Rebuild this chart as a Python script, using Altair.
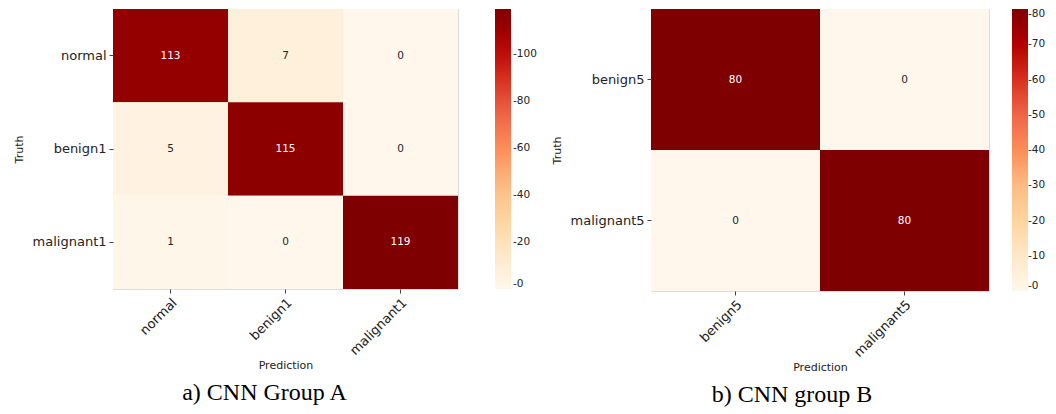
import altair as alt
import pandas as pd

labels_a = ["normal", "benign1", "malignant1"]
matrix_a = [[113, 7, 0],
            [5, 115, 0],
            [1, 0, 119]]
labels_b = ["benign5", "malignant5"]
matrix_b = [[80, 0],
            [0, 80]]
ticks_a = [0, 20, 40, 60, 80, 100]
ticks_b = [0, 10, 20, 30, 40, 50, 60, 70, 80]
caption_a = "a) CNN Group A"
caption_b = "b) CNN group B"
# ColorBrewer OrRd (matplotlib "OrRd")
orrd = ["#fff7ec", "#fee8c8", "#fdd49e", "#fdbb84", "#fc8d59",
        "#ef6548", "#d7301f", "#b30000", "#7f0000"]


def to_df(labels, matrix):
    rows = []
    for i, t in enumerate(labels):
        for j, p in enumerate(labels):
            rows.append({"truth": t, "pred": p, "value": matrix[i][j]})
    return pd.DataFrame(rows)


def panel(labels, matrix, ticks, vmax, caption, w, h, legend_offset, thr, lab_off, cap_dx):
    df = to_df(labels, matrix)
    base = alt.Chart(df)
    stops = [vmax * k / (len(orrd) - 1) for k in range(len(orrd))]
    x = alt.X("pred:N", sort=labels, title="Prediction",
              axis=alt.Axis(labelAngle=-45, labelAlign="right", labelBaseline="top",
                            labelFontSize=13, titleFontSize=11, domain=False,
                            tickSize=4, labelPadding=3, titlePadding=2,
                            labelColor="#222", titleColor="#222", tickColor="#444",
                            titleFontWeight="normal", labelFont="DejaVu Sans",
                            titleFont="DejaVu Sans"))
    y = alt.Y("truth:N", sort=labels, title="Truth",
              axis=alt.Axis(labelAngle=0, labelFontSize=13, titleFontSize=11, domain=False,
                            tickSize=4, labelPadding=3, titlePadding=8,
                            labelColor="#222", titleColor="#222", tickColor="#444",
                            titleFontWeight="normal", labelFont="DejaVu Sans",
                            titleFont="DejaVu Sans"))
    rect = base.mark_rect().encode(
        x=x, y=y,
        color=alt.Color("value:Q",
                        scale=alt.Scale(domain=stops, range=orrd, interpolate="rgb"),
                        legend=alt.Legend(title=None, values=ticks, gradientLength=h,
                                          gradientThickness=16, offset=legend_offset,
                                          labelFontSize=10.5, labelColor="#222",
                                          labelFont="DejaVu Sans", labelOffset=lab_off,
                                          labelExpr="'-' + datum.label",
                                          gradientStrokeWidth=0)))
    text = base.mark_text(fontSize=10.5, font="DejaVu Sans").encode(
        x=alt.X("pred:N", sort=labels),
        y=alt.Y("truth:N", sort=labels),
        text="value:Q",
        color=alt.condition(alt.datum.value > thr, alt.value("white"), alt.value("#262626")))
    return alt.layer(rect, text).properties(
        width=w, height=h,
        title=alt.TitleParams(caption, orient="bottom", font="Liberation Serif",
                              fontSize=24, fontWeight="normal", color="black",
                              anchor="middle", offset=11, dx=cap_dx))


a = panel(labels_a, matrix_a, ticks_a, 119, caption_a, 345, 280, 37, 60, 2, -21)
b = panel(labels_b, matrix_b, ticks_b, 80, caption_b, 338, 282, 23, 40, 0, -28)

chart = alt.hconcat(a, b, spacing=12).resolve_scale(color="independent").configure_view(
    stroke=None).configure(background="white", padding={"left": 4, "top": 0, "right": 0, "bottom": 0})

chart.save("out.html", embed_options={"renderer": "svg", "actions": False})
